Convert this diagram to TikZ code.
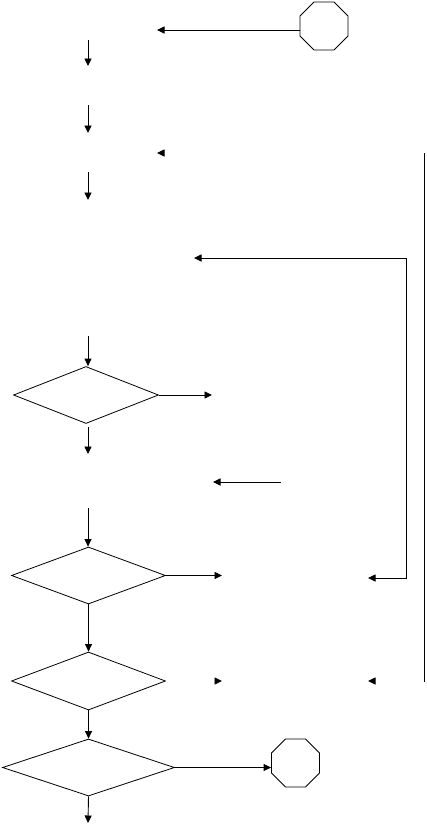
\documentclass[tikz,border=0pt]{standalone}
\usetikzlibrary{shapes.geometric,arrows.meta}
\begin{document}
\begin{tikzpicture}[x=1pt,y=-1pt,
  line width=0.9pt,
  arr/.style={-{Triangle[length=7.5pt,width=7pt]}},
  darr/.style={{Triangle[length=7.5pt,width=7pt]}-{Triangle[length=7.5pt,width=7pt]}},
  dec/.style={draw,diamond,inner sep=0pt,line width=0.8pt},
  stopsign/.style={draw,regular polygon,regular polygon sides=8,minimum size=52pt,inner sep=0pt,line width=0.8pt}]
\useasboundingbox (0,0) rectangle (427,827);
% top terminator
\node[stopsign] (o1) at (324,26) {};
\coordinate (t1) at (157,30);
\draw[arr] ([yshift=-4pt]o1.west) -- (t1);
% down arrows at top
\coordinate (a1s) at (88,40);  \coordinate (a1e) at (88,66);
\coordinate (a2s) at (88,105); \coordinate (a2e) at (88,133);
\coordinate (a3s) at (88,172); \coordinate (a3e) at (88,200);
\draw[arr] (a1s) -- (a1e);
\draw[arr] (a2s) -- (a2e);
\draw[arr] (a3s) -- (a3e);
% lone arrowhead
\coordinate (h1s) at (160,153); \coordinate (h1e) at (157,153);
\draw[arr] (h1s) -- (h1e);
% right long line
\coordinate (r1) at (424,153); \coordinate (r2) at (424,682);
\draw (r1) -- (r2);
% loop
\coordinate (l1) at (194,258); \coordinate (l2) at (406,258);
\coordinate (l3) at (406,578); \coordinate (l4) at (368,578);
\draw[darr] (l1) -- (l2) -- (l3) -- (l4);
% decision 1
\node[dec,minimum width=145pt,minimum height=57pt] (d1) at (86,395) {};
\coordinate (b1) at (88,336);
\draw[arr] (b1) -- (b1 |- d1.north);
\coordinate (e1) at (212,395);
\draw[arr] (d1.east) -- (e1);
\coordinate (b2s) at (88,427); \coordinate (b2e) at (88,454);
\draw[arr] (b2s) -- (b2e);
% mid arrow
\coordinate (m1s) at (281,482); \coordinate (m1e) at (213,482);
\draw[arr] (m1s) -- (m1e);
% decision 2
\node[dec,minimum width=154pt,minimum height=57pt] (d2) at (88.5,575.5) {};
\coordinate (b3) at (88,508);
\draw[arr] (b3) -- (b3 |- d2.north);
\coordinate (e2) at (222,575.5);
\draw[arr] (d2.east) -- (e2);
% decision 3
\node[dec,minimum width=154pt,minimum height=58pt] (d3) at (88.5,681) {};
\draw[arr] (d2.south) -- (d3.north);
\coordinate (h2s) at (219,681); \coordinate (h2e) at (222,681);
\draw[arr] (h2s) -- (h2e);
\coordinate (h3s) at (371,681); \coordinate (h3e) at (368,681);
\draw[arr] (h3s) -- (h3e);
% decision 4
\node[dec,minimum width=172pt,minimum height=57pt] (d4) at (88.5,767.5) {};
\draw[arr] (d3.south) -- (d4.north);
\node[stopsign] (o2) at (295.5,763) {};
\draw[arr] (d4.east) -- (d4.east -| o2.west);
\coordinate (endp) at (88,823);
\draw[arr] (d4.south) -- (endp);
\end{tikzpicture}
\end{document}
